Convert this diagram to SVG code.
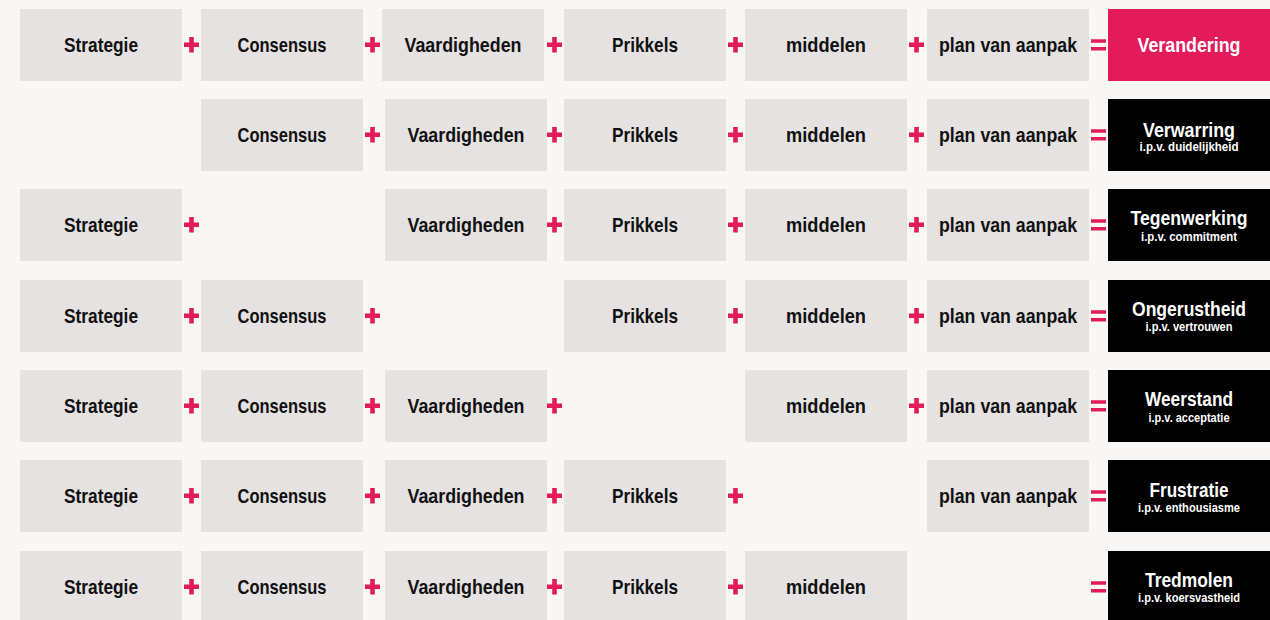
<svg xmlns="http://www.w3.org/2000/svg" width="1270" height="620" viewBox="0 0 1270 620">
<style>
.bg{fill:#f8f7f5}
.box{fill:#e5e2e1}
.res{fill:#000}
.pink{fill:#e31b5b}
.t{font-family:"Liberation Sans",Arial,sans-serif;font-weight:bold;font-size:21px;fill:#111;text-anchor:middle}
.rt{font-family:"Liberation Sans",Arial,sans-serif;font-weight:bold;font-size:21px;fill:#fff;text-anchor:middle}
.st{font-family:"Liberation Sans",Arial,sans-serif;font-weight:bold;font-size:12px;fill:#fff;text-anchor:middle}
.op{fill:#e31b5b}
</style>
<defs>
<path id="plus" d="M-7.5,-2.3H-2.3V-7.7H2.3V-2.3H7.5V2.3H2.3V7.7H-2.3V2.3H-7.5Z"/>
<path id="eq" d="M-7.5,-5.7H7.5V-2.2H-7.5ZM-7.5,2.1H7.5V5.6H-7.5Z"/>
</defs>
<rect class="bg" x="0" y="0" width="1270" height="620"/>

<!-- Row 1 -->
<g id="r1-strategie"><rect class="box" x="20" y="9" width="162" height="72"/><text class="t" x="101" y="52" textLength="74" lengthAdjust="spacingAndGlyphs">Strategie</text></g>
<g id="r1-consensus"><rect class="box" x="201" y="9" width="162" height="72"/><text class="t" x="282" y="52" textLength="89" lengthAdjust="spacingAndGlyphs">Consensus</text></g>
<g id="r1-vaardigheden"><rect class="box" x="382" y="9" width="162" height="72"/><text class="t" x="463" y="52" textLength="117" lengthAdjust="spacingAndGlyphs">Vaardigheden</text></g>
<g id="r1-prikkels"><rect class="box" x="564" y="9" width="162" height="72"/><text class="t" x="645" y="52" textLength="66" lengthAdjust="spacingAndGlyphs">Prikkels</text></g>
<g id="r1-middelen"><rect class="box" x="745" y="9" width="162" height="72"/><text class="t" x="826" y="52" textLength="80" lengthAdjust="spacingAndGlyphs">middelen</text></g>
<g id="r1-plan"><rect class="box" x="927" y="9" width="162" height="72"/><text class="t" x="1008" y="52" textLength="138" lengthAdjust="spacingAndGlyphs">plan van aanpak</text></g>
<g id="r1-result"><rect class="pink" x="1108" y="9" width="162" height="72"/><text class="rt" x="1189" y="52" textLength="103" lengthAdjust="spacingAndGlyphs">Verandering</text></g>

<!-- Row 2 -->
<g id="r2-consensus"><rect class="box" x="201" y="99" width="162" height="72"/><text class="t" x="282" y="142" textLength="89" lengthAdjust="spacingAndGlyphs">Consensus</text></g>
<g id="r2-vaardigheden"><rect class="box" x="385" y="99" width="162" height="72"/><text class="t" x="466" y="142" textLength="117" lengthAdjust="spacingAndGlyphs">Vaardigheden</text></g>
<g id="r2-prikkels"><rect class="box" x="564" y="99" width="162" height="72"/><text class="t" x="645" y="142" textLength="66" lengthAdjust="spacingAndGlyphs">Prikkels</text></g>
<g id="r2-middelen"><rect class="box" x="745" y="99" width="162" height="72"/><text class="t" x="826" y="142" textLength="80" lengthAdjust="spacingAndGlyphs">middelen</text></g>
<g id="r2-plan"><rect class="box" x="927" y="99" width="162" height="72"/><text class="t" x="1008" y="142" textLength="138" lengthAdjust="spacingAndGlyphs">plan van aanpak</text></g>
<g id="r2-result"><rect class="res" x="1108" y="99" width="162" height="72"/><text class="rt" x="1189" y="136.5" textLength="92" lengthAdjust="spacingAndGlyphs">Verwarring</text><text class="st" x="1189" y="150.5" textLength="99" lengthAdjust="spacingAndGlyphs">i.p.v. duidelijkheid</text></g>

<!-- Row 3 -->
<g id="r3-strategie"><rect class="box" x="20" y="189" width="162" height="72"/><text class="t" x="101" y="232" textLength="74" lengthAdjust="spacingAndGlyphs">Strategie</text></g>
<g id="r3-vaardigheden"><rect class="box" x="385" y="189" width="162" height="72"/><text class="t" x="466" y="232" textLength="117" lengthAdjust="spacingAndGlyphs">Vaardigheden</text></g>
<g id="r3-prikkels"><rect class="box" x="564" y="189" width="162" height="72"/><text class="t" x="645" y="232" textLength="66" lengthAdjust="spacingAndGlyphs">Prikkels</text></g>
<g id="r3-middelen"><rect class="box" x="745" y="189" width="162" height="72"/><text class="t" x="826" y="232" textLength="80" lengthAdjust="spacingAndGlyphs">middelen</text></g>
<g id="r3-plan"><rect class="box" x="927" y="189" width="162" height="72"/><text class="t" x="1008" y="232" textLength="138" lengthAdjust="spacingAndGlyphs">plan van aanpak</text></g>
<g id="r3-result"><rect class="res" x="1108" y="189" width="162" height="72"/><text class="rt" x="1189" y="225" textLength="117" lengthAdjust="spacingAndGlyphs">Tegenwerking</text><text class="st" x="1189" y="240.5" textLength="96" lengthAdjust="spacingAndGlyphs">i.p.v. commitment</text></g>

<!-- Row 4 -->
<g id="r4-strategie"><rect class="box" x="20" y="280" width="162" height="72"/><text class="t" x="101" y="323" textLength="74" lengthAdjust="spacingAndGlyphs">Strategie</text></g>
<g id="r4-consensus"><rect class="box" x="201" y="280" width="162" height="72"/><text class="t" x="282" y="323" textLength="89" lengthAdjust="spacingAndGlyphs">Consensus</text></g>
<g id="r4-prikkels"><rect class="box" x="564" y="280" width="162" height="72"/><text class="t" x="645" y="323" textLength="66" lengthAdjust="spacingAndGlyphs">Prikkels</text></g>
<g id="r4-middelen"><rect class="box" x="745" y="280" width="162" height="72"/><text class="t" x="826" y="323" textLength="80" lengthAdjust="spacingAndGlyphs">middelen</text></g>
<g id="r4-plan"><rect class="box" x="927" y="280" width="162" height="72"/><text class="t" x="1008" y="323" textLength="138" lengthAdjust="spacingAndGlyphs">plan van aanpak</text></g>
<g id="r4-result"><rect class="res" x="1108" y="280" width="162" height="72"/><text class="rt" x="1189" y="315.7" textLength="114" lengthAdjust="spacingAndGlyphs">Ongerustheid</text><text class="st" x="1189" y="330.7" textLength="87" lengthAdjust="spacingAndGlyphs">i.p.v. vertrouwen</text></g>

<!-- Row 5 -->
<g id="r5-strategie"><rect class="box" x="20" y="370" width="162" height="72"/><text class="t" x="101" y="413" textLength="74" lengthAdjust="spacingAndGlyphs">Strategie</text></g>
<g id="r5-consensus"><rect class="box" x="201" y="370" width="162" height="72"/><text class="t" x="282" y="413" textLength="89" lengthAdjust="spacingAndGlyphs">Consensus</text></g>
<g id="r5-vaardigheden"><rect class="box" x="385" y="370" width="162" height="72"/><text class="t" x="466" y="413" textLength="117" lengthAdjust="spacingAndGlyphs">Vaardigheden</text></g>
<g id="r5-middelen"><rect class="box" x="745" y="370" width="162" height="72"/><text class="t" x="826" y="413" textLength="80" lengthAdjust="spacingAndGlyphs">middelen</text></g>
<g id="r5-plan"><rect class="box" x="927" y="370" width="162" height="72"/><text class="t" x="1008" y="413" textLength="138" lengthAdjust="spacingAndGlyphs">plan van aanpak</text></g>
<g id="r5-result"><rect class="res" x="1108" y="370" width="162" height="72"/><text class="rt" x="1189" y="406" textLength="88" lengthAdjust="spacingAndGlyphs">Weerstand</text><text class="st" x="1189" y="421.7" textLength="81" lengthAdjust="spacingAndGlyphs">i.p.v. acceptatie</text></g>

<!-- Row 6 -->
<g id="r6-strategie"><rect class="box" x="20" y="460" width="162" height="72"/><text class="t" x="101" y="503" textLength="74" lengthAdjust="spacingAndGlyphs">Strategie</text></g>
<g id="r6-consensus"><rect class="box" x="201" y="460" width="162" height="72"/><text class="t" x="282" y="503" textLength="89" lengthAdjust="spacingAndGlyphs">Consensus</text></g>
<g id="r6-vaardigheden"><rect class="box" x="385" y="460" width="162" height="72"/><text class="t" x="466" y="503" textLength="117" lengthAdjust="spacingAndGlyphs">Vaardigheden</text></g>
<g id="r6-prikkels"><rect class="box" x="564" y="460" width="162" height="72"/><text class="t" x="645" y="503" textLength="66" lengthAdjust="spacingAndGlyphs">Prikkels</text></g>
<g id="r6-plan"><rect class="box" x="927" y="460" width="162" height="72"/><text class="t" x="1008" y="503" textLength="138" lengthAdjust="spacingAndGlyphs">plan van aanpak</text></g>
<g id="r6-result"><rect class="res" x="1108" y="460" width="162" height="72"/><text class="rt" x="1189" y="496.5" textLength="79" lengthAdjust="spacingAndGlyphs">Frustratie</text><text class="st" x="1189" y="511.7" textLength="102" lengthAdjust="spacingAndGlyphs">i.p.v. enthousiasme</text></g>

<!-- Row 7 -->
<g id="r7-strategie"><rect class="box" x="20" y="551" width="162" height="72"/><text class="t" x="101" y="594" textLength="74" lengthAdjust="spacingAndGlyphs">Strategie</text></g>
<g id="r7-consensus"><rect class="box" x="201" y="551" width="162" height="72"/><text class="t" x="282" y="594" textLength="89" lengthAdjust="spacingAndGlyphs">Consensus</text></g>
<g id="r7-vaardigheden"><rect class="box" x="385" y="551" width="162" height="72"/><text class="t" x="466" y="594" textLength="117" lengthAdjust="spacingAndGlyphs">Vaardigheden</text></g>
<g id="r7-prikkels"><rect class="box" x="564" y="551" width="162" height="72"/><text class="t" x="645" y="594" textLength="66" lengthAdjust="spacingAndGlyphs">Prikkels</text></g>
<g id="r7-middelen"><rect class="box" x="745" y="551" width="162" height="72"/><text class="t" x="826" y="594" textLength="80" lengthAdjust="spacingAndGlyphs">middelen</text></g>
<g id="r7-result"><rect class="res" x="1108" y="551" width="162" height="72"/><text class="rt" x="1189" y="586.7" textLength="88" lengthAdjust="spacingAndGlyphs">Tredmolen</text><text class="st" x="1189" y="601.7" textLength="102" lengthAdjust="spacingAndGlyphs">i.p.v. koersvastheid</text></g>

<!-- Operators (connectors) -->
<g id="operators" class="op">
<use href="#plus" x="191.5" y="44.7"/><use href="#plus" x="372.5" y="44.7"/><use href="#plus" x="554.5" y="44.7"/><use href="#plus" x="735.5" y="44.7"/><use href="#plus" x="916.5" y="44.7"/><use href="#eq" x="1098.5" y="45"/>
<use href="#plus" x="372.5" y="134.7"/><use href="#plus" x="554.5" y="134.7"/><use href="#plus" x="735.5" y="134.7"/><use href="#plus" x="916.5" y="134.7"/><use href="#eq" x="1098.5" y="135"/>
<use href="#plus" x="191.5" y="224.7"/><use href="#plus" x="554.5" y="224.7"/><use href="#plus" x="735.5" y="224.7"/><use href="#plus" x="916.5" y="224.7"/><use href="#eq" x="1098.5" y="225"/>
<use href="#plus" x="191.5" y="315.7"/><use href="#plus" x="372.5" y="315.7"/><use href="#plus" x="735.5" y="315.7"/><use href="#plus" x="916.5" y="315.7"/><use href="#eq" x="1098.5" y="316"/>
<use href="#plus" x="191.5" y="405.7"/><use href="#plus" x="372.5" y="405.7"/><use href="#plus" x="554.5" y="405.7"/><use href="#plus" x="916.5" y="405.7"/><use href="#eq" x="1098.5" y="406"/>
<use href="#plus" x="191.5" y="495.7"/><use href="#plus" x="372.5" y="495.7"/><use href="#plus" x="554.5" y="495.7"/><use href="#plus" x="735.5" y="495.7"/><use href="#eq" x="1098.5" y="496"/>
<use href="#plus" x="191.5" y="586.7"/><use href="#plus" x="372.5" y="586.7"/><use href="#plus" x="554.5" y="586.7"/><use href="#plus" x="735.5" y="586.7"/><use href="#eq" x="1098.5" y="587"/>
</g>
</svg>
